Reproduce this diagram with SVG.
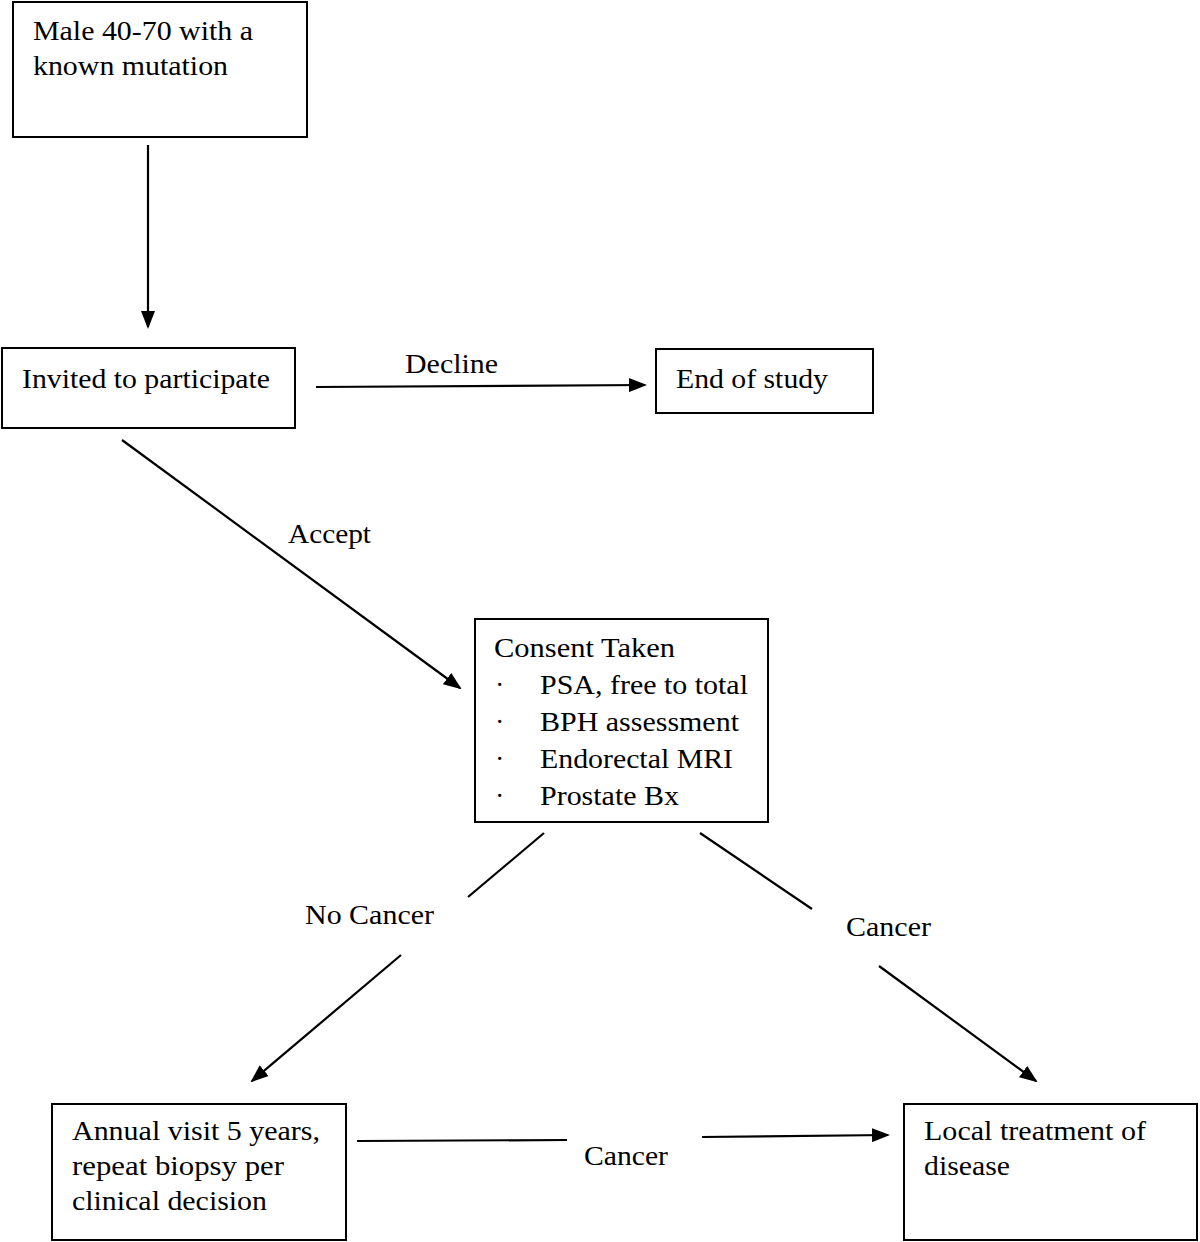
<svg xmlns="http://www.w3.org/2000/svg" width="1200" height="1242" viewBox="0 0 1200 1242">
<style>
.box{fill:#fff;stroke:#000;stroke-width:2}
.t{font-family:"Liberation Serif","Times New Roman",serif;font-size:28px;fill:#000}
.ln{stroke:#000;stroke-width:2.2;fill:none}
</style>
<defs>
<marker id="ah" markerWidth="18" markerHeight="14" refX="16" refY="7" orient="auto" markerUnits="userSpaceOnUse">
<path d="M0,0 L18,7 L0,14 Z" fill="#000"/>
</marker>
</defs>
<rect width="1200" height="1242" fill="#fff"/>
<g id="n1">
<rect class="box" x="13" y="2" width="294" height="135"/>
<text class="t" x="33" y="40" textLength="220" lengthAdjust="spacingAndGlyphs">Male 40-70 with a</text>
<text class="t" x="33" y="75" textLength="195" lengthAdjust="spacingAndGlyphs">known mutation</text>
</g>
<g id="n2">
<rect class="box" x="2" y="348" width="293" height="80"/>
<text class="t" x="22" y="388" textLength="248" lengthAdjust="spacingAndGlyphs">Invited to participate</text>
</g>
<g id="n3">
<rect class="box" x="656" y="349" width="217" height="64"/>
<text class="t" x="676" y="388" textLength="152" lengthAdjust="spacingAndGlyphs">End of study</text>
</g>
<g id="n4">
<rect class="box" x="475" y="619" width="293" height="203"/>
<text class="t" x="494" y="657" textLength="181" lengthAdjust="spacingAndGlyphs">Consent Taken</text>
<text class="t" x="495" y="694">·</text>
<text class="t" x="540" y="694" textLength="208" lengthAdjust="spacingAndGlyphs">PSA, free to total</text>
<text class="t" x="495" y="731">·</text>
<text class="t" x="540" y="731" textLength="199" lengthAdjust="spacingAndGlyphs">BPH assessment</text>
<text class="t" x="495" y="768">·</text>
<text class="t" x="540" y="768" textLength="193" lengthAdjust="spacingAndGlyphs">Endorectal MRI</text>
<text class="t" x="495" y="805">·</text>
<text class="t" x="540" y="805" textLength="139" lengthAdjust="spacingAndGlyphs">Prostate Bx</text>
</g>
<g id="n5">
<rect class="box" x="52" y="1104" width="294" height="136"/>
<text class="t" x="72" y="1140" textLength="248" lengthAdjust="spacingAndGlyphs">Annual visit 5 years,</text>
<text class="t" x="72" y="1175" textLength="212" lengthAdjust="spacingAndGlyphs">repeat biopsy per</text>
<text class="t" x="72" y="1210" textLength="195" lengthAdjust="spacingAndGlyphs">clinical decision</text>
</g>
<g id="n6">
<rect class="box" x="904" y="1104" width="293" height="136"/>
<text class="t" x="924" y="1140" textLength="222" lengthAdjust="spacingAndGlyphs">Local treatment of</text>
<text class="t" x="924" y="1175" textLength="86" lengthAdjust="spacingAndGlyphs">disease</text>
</g>
<g id="connectors">
<line class="ln" x1="148" y1="145" x2="148" y2="327" marker-end="url(#ah)"/>
<line class="ln" x1="316" y1="387" x2="645" y2="385" marker-end="url(#ah)"/>
<text class="t" x="405" y="373" textLength="93" lengthAdjust="spacingAndGlyphs">Decline</text>
<line class="ln" x1="122" y1="440" x2="460" y2="688" marker-end="url(#ah)"/>
<text class="t" x="288" y="543" textLength="83" lengthAdjust="spacingAndGlyphs">Accept</text>
<line class="ln" x1="544" y1="833" x2="468" y2="897"/>
<text class="t" x="305" y="924" textLength="129" lengthAdjust="spacingAndGlyphs">No Cancer</text>
<line class="ln" x1="401" y1="955" x2="252" y2="1081" marker-end="url(#ah)"/>
<line class="ln" x1="700" y1="833" x2="812" y2="909"/>
<text class="t" x="846" y="936" textLength="85" lengthAdjust="spacingAndGlyphs">Cancer</text>
<line class="ln" x1="879" y1="966" x2="1036" y2="1081" marker-end="url(#ah)"/>
<line class="ln" x1="357" y1="1141" x2="567" y2="1140"/>
<text class="t" x="584" y="1165" textLength="84" lengthAdjust="spacingAndGlyphs">Cancer</text>
<line class="ln" x1="702" y1="1137" x2="888" y2="1135" marker-end="url(#ah)"/>
</g>
</svg>
